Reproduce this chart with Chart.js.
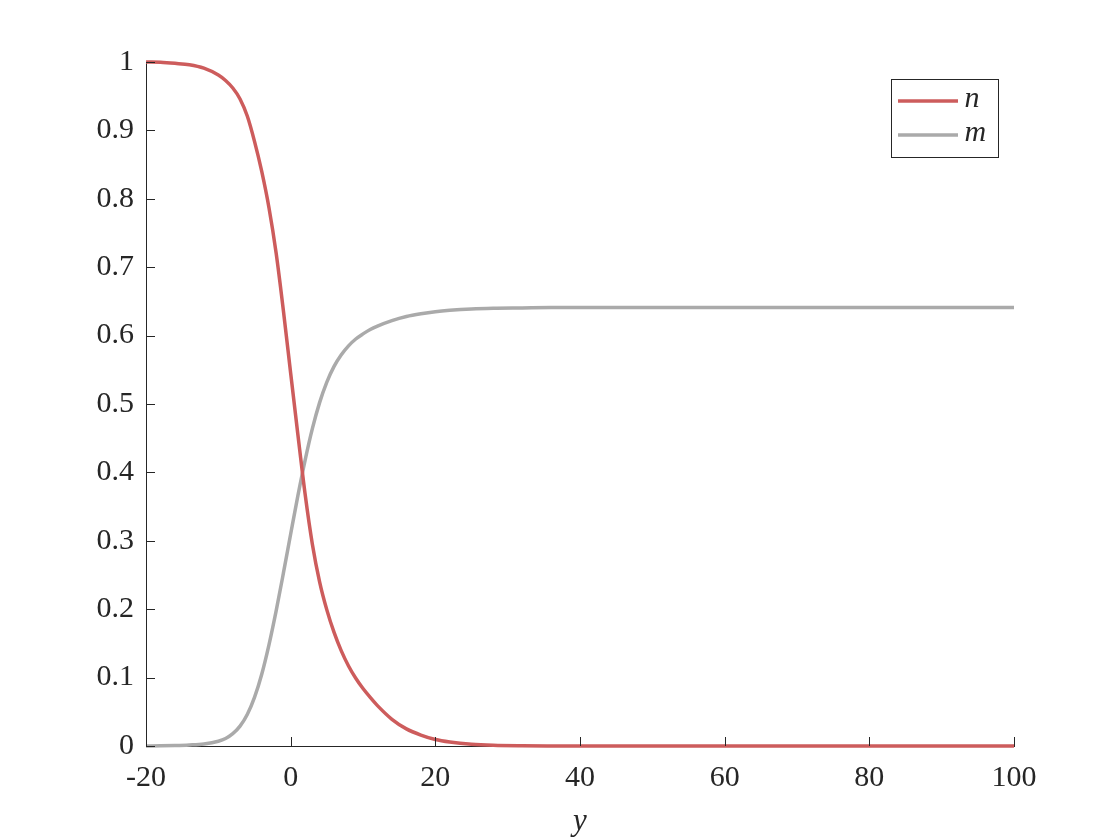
<!DOCTYPE html>
<html>
<head>
<meta charset="utf-8">
<script src="https://cdn.jsdelivr.net/npm/chart.js@4/dist/chart.umd.min.js"></script>
<style>
  html, body { margin: 0; padding: 0; background: #fff; }
  #wrap { width: 1120px; height: 840px; }
</style>
</head>
<body>
<div id="wrap"><canvas id="profileChart" width="1120" height="840"></canvas></div>
<script>
// sample positions along y
const yPos = [-20, -18, -16, -14, -12, -10, -9, -8, -7, -6, -5, -4, -3, -2, -1, 0, 1, 2, 3, 4, 5,
  6, 7, 8, 9, 10, 11, 12, 14, 16, 18, 20, 22, 25, 28, 32, 36, 40, 50, 60, 70, 80, 90, 100];

// n (red) falls from 1 to 0
const nVals = [1.0, 0.9995, 0.998, 0.996, 0.991, 0.981, 0.973, 0.962, 0.946, 0.921, 0.884, 0.84, 0.787, 0.72, 0.636,
  0.545, 0.455, 0.368, 0.295, 0.24, 0.199, 0.166, 0.139, 0.117, 0.099, 0.084, 0.071, 0.059, 0.039, 0.025, 0.016,
  0.0095, 0.0058, 0.0025, 0.001, 0.0003, 0.0001, 0, 0, 0, 0, 0, 0, 0];

// m (grey) rises from 0 to ~0.64
const mVals = [0.0001, 0.0003, 0.0007, 0.0015, 0.003, 0.007, 0.011, 0.018, 0.029, 0.046, 0.071, 0.105, 0.148, 0.198,
  0.253, 0.31, 0.366, 0.418, 0.464, 0.502, 0.532, 0.555, 0.572, 0.585, 0.595, 0.6025, 0.609, 0.614, 0.622, 0.628,
  0.632, 0.635, 0.637, 0.639, 0.640, 0.6405, 0.641, 0.641, 0.641, 0.641, 0.641, 0.641, 0.641, 0.641];

const xTicks = [-20, 0, 20, 40, 60, 80, 100];
const yTicks = [0, 0.1, 0.2, 0.3, 0.4, 0.5, 0.6, 0.7, 0.8, 0.9, 1];

const red = 'rgb(205, 92, 92)';
const grey = 'rgb(170, 170, 170)';
const ink = '#262626';
const serif = "'Liberation Serif', 'DejaVu Serif', serif";

//pair positions with values for the linear x scale
const toPoints = (vals) => vals.map((v, i) => ({ x: yPos[i], y: v }));

//inward tick marks (matlab style) + boxed legend in the top right
const axisDecor = {
  id: 'axisDecor',
  afterDraw(chart) {
    const { ctx, chartArea: area, scales } = chart;
    ctx.save();
    ctx.strokeStyle = ink;
    ctx.lineWidth = 1;
    ctx.beginPath();
    xTicks.forEach((t) => {
      const px = Math.round(scales.x.getPixelForValue(t)) + 0.5;
      ctx.moveTo(px, area.bottom);
      ctx.lineTo(px, area.bottom - 9);
    });
    yTicks.forEach((t) => {
      const py = Math.round(scales.y.getPixelForValue(t)) + 0.5;
      ctx.moveTo(area.left, py);
      ctx.lineTo(area.left + 9, py);
    });
    ctx.stroke();

    // legend box
    const bx = area.right - 122.5, by = area.top + 17.5, bw = 107, bh = 78;
    ctx.fillStyle = '#fff';
    ctx.fillRect(bx, by, bw, bh);
    ctx.strokeRect(bx, by, bw, bh);
    ctx.font = 'italic 30px ' + serif;
    ctx.textBaseline = 'middle';
    chart.data.datasets.forEach((ds, i) => {
      const ly = by + 21.5 + i * 34;
      ctx.strokeStyle = ds.borderColor;
      ctx.lineWidth = 3.5;
      ctx.beginPath();
      ctx.moveTo(bx + 6.5, ly);
      ctx.lineTo(bx + 66.5, ly);
      ctx.stroke();
      ctx.fillStyle = ink;
      ctx.fillText(ds.label, bx + 73, ly - 2);
    });
    ctx.restore();
  },
};

new Chart('profileChart', {
  type: 'line',
  data: {
    datasets: [
      { label: 'n', data: toPoints(nVals), borderColor: red },
      { label: 'm', data: toPoints(mVals), borderColor: grey },
    ],
  },
  options: {
    responsive: false,
    animation: false,
    events: [],
    layout: { padding: { top: 62, right: 106, left: 0, bottom: 0 } },
    elements: {
      point: { radius: 0 },
      line: { borderWidth: 3.5, cubicInterpolationMode: 'monotone', fill: false },
    },
    datasets: { line: { clip: 6 } },
    plugins: { legend: { display: false }, tooltip: { enabled: false } },
    scales: {
      x: {
        type: 'linear',
        min: -20,
        max: 100,
        afterBuildTicks: (s) => { s.ticks = xTicks.map((v) => ({ value: v })); },
        afterFit: (s) => { s.height = 94; },
        grid: { display: false, drawTicks: false },
        border: { display: true, color: ink, width: 1 },
        ticks: { color: ink, padding: 14, font: { family: serif, size: 30 } },
        title: {
          display: true,
          text: 'y',
          color: ink,
          padding: { top: 0, bottom: 0 },
          font: { family: serif, size: 31, style: 'italic' },
        },
      },
      y: {
        min: 0,
        max: 1,
        afterBuildTicks: (s) => { s.ticks = yTicks.map((v) => ({ value: v })); },
        afterFit: (s) => { s.width = 146; },
        grid: { display: false, drawTicks: false },
        border: { display: true, color: ink, width: 1 },
        ticks: {
          color: ink,
          padding: 12,
          font: { family: serif, size: 30 },
          callback: (v) => String(v),
        },
      },
    },
  },
  plugins: [axisDecor],
});
</script>
</body>
</html>
